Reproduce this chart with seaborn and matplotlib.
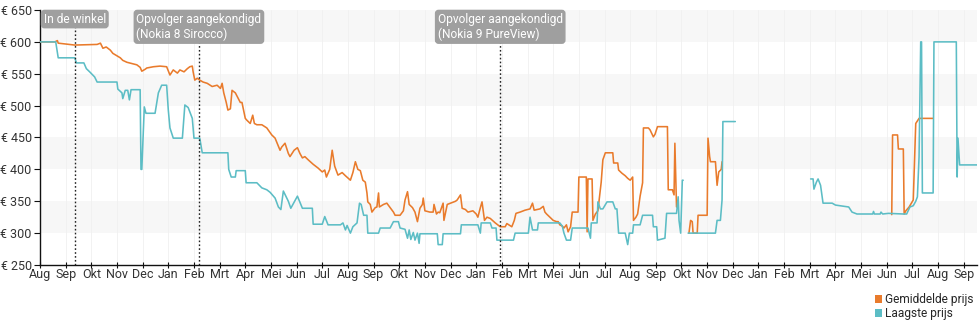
import numpy as np
import pandas as pd
import matplotlib
matplotlib.use("Agg")
import matplotlib.pyplot as plt
from matplotlib.patches import Patch
import seaborn as sns

# ---------------- data ----------------
# x = days since start of chart (ticks every 31 days), NaN marks a gap
laagste_dag = [0, 19, 22, 42, 44, 53, 56, 60, 66, 69, 93, 94, 99, 100, 103, 106, 108, 110, 121, 122, 123,
               126, 128, 139, 143, 147, 153, 155, 157, 161, 172, 175, 179, 184, 186, 193, 196, 227, 228,
               231, 236, 237, 248, 249, 262, 268, 274, 278, 284, 288, 291, 294, 300, 303, 311, 317, 329,
               330, 341, 344, 348, 363, 366, 369, 371, 375, 378, 383, 386, 388, 391, 395, 396, 409, 411,
               423, 427, 433, 435, 441, 444, 446, 448, 451, 453, 456, 458, 459, 480, 481, 486, 487, 508,
               509, 529, 532, 533, 544, 546, 551, 552, 572, 574, 590, 592, 595, 601, 602, 628, 631, 633,
               636, 641, 643, 656, 662, 665, 666, 673, 674, 677, 680, 685, 692, 695, 697, 699, 707, 710,
               712, 716, 717, 725, 728, 740, 741, 745, 746, 755, 757, 769, 771, 772, 774, 776, 777,
               np.nan,
               783, 816, 818, 822, 824, 825, 840,
               np.nan,
               931, 934, 935, 938, 940, 943, 946, 957, 961, 977, 981, 987, 1006, 1007, 1008, 1015, 1016,
               1018, 1025, 1043, 1047, 1051, 1055, 1058, 1060, 1062, 1064, 1065, 1066, 1079, 1080, 1107,
               1108, 1109, 1111, 1132]
laagste_prijs = [600, 600, 575, 575, 567, 567, 558, 553, 545, 537, 537, 526, 520, 511, 524, 524, 509, 525, 525, 400, 400,
                 498, 488, 488, 520, 532, 532, 493, 465, 449, 449, 501, 497, 480, 449, 449, 426, 426, 400,
                 388, 388, 398, 398, 379, 379, 371, 368, 364, 355, 341, 337, 366, 350, 339, 358, 339, 339,
                 314, 314, 326, 313, 313, 316, 305, 312, 300, 310, 316, 347, 345, 328, 328, 300, 300, 308,
                 308, 318, 318, 308, 306, 292, 305, 290, 301, 289, 300, 284, 299, 299, 282, 282, 299, 299,
                 313, 313, 300, 316, 316, 308, 308, 289, 289, 300, 300, 325, 305, 305, 316, 316, 311, 300,
                 289, 289, 308, 308, 308, 292, 316, 316, 349, 338, 338, 349, 349, 338, 338, 300, 300, 282,
                 300, 300, 313, 313, 328, 328, 310, 310, 289, 292, 331, 331, 357, 320, 300, 383, 383,
                 np.nan,
                 300, 300, 320, 320, 352, 475, 475,
                 np.nan,
                 385, 385, 369, 380, 385, 375, 347, 347, 344, 341, 333, 330, 330, 334, 330, 330, 333,
                 330, 331, 330, 330, 341, 343, 350, 357, 420, 600, 600, 363, 363, 600, 600,
                 388, 449, 407, 407]

gemiddeld_dag = [0, 18, 21, 22, 42, 69, 73, 76, 80, 85, 88, 93, 97, 100, 105, 111, 117, 121, 123, 127, 129,
                 137, 145, 153, 157, 161, 166, 169, 174, 178, 181, 184, 185, 187, 190, 193, 197, 202, 208,
                 214, 218, 220, 222, 225, 227, 230, 232, 236, 238, 242, 244, 248, 250, 254, 257, 259, 262,
                 268, 274, 280, 284, 290, 292, 296, 300, 302, 307, 311, 314, 317, 320, 324, 330, 336, 341,
                 344, 346, 350, 353, 356, 360, 365, 369, 375, 378, 381, 384, 387, 390, 393, 395, 396, 399,
                 401, 405, 407, 409, 410, 415, 419, 423, 427, 429, 435, 439, 441, 444, 446, 450, 453, 456,
                 459, 462, 463, 465, 471, 475, 476, 479, 481, 483, 487, 488, 492, 496, 502, 504, 508, 510,
                 514, 517, 523, 527, 529, 532, 534, 537, 540, 544, 550, 556, 562, 564, 570, 573, 575, 580,
                 586, 592, 595, 597, 604, 608, 610, 612, 616, 620, 624, 626, 628, 631, 633, 636, 638, 641,
                 643, 647, 650, 651, 660, 661, 662, 667, 668, 671, 674, 678, 680, 683, 687, 692, 693, 698,
                 699, 703, 707, 710, 713, 716, 717, 720, 722, 725, 728, 729, 735, 737, 741, 743, 746, 749,
                 758, 759, 764, 766, 767, 769,
                 np.nan,
                 784, 786, 788, 789, 794, 795, 806, 807, 809, 810, 816, 818, 820, 823, 824,
                 np.nan,
                 1029, 1030, 1036, 1037, 1043, 1044, 1046, 1050, 1055, 1058, 1062, 1079]
gemiddeld_prijs = [600, 600, 602, 598, 595, 596, 598, 590, 592, 587, 582, 578, 575, 571, 568, 566, 564, 560, 554, 557, 559,
                   561, 562, 561, 548, 556, 551, 556, 553, 558, 561, 562, 553, 540, 543, 540, 537, 535, 530,
                   532, 527, 535, 520, 505, 493, 495, 524, 520, 515, 505, 505, 480, 477, 472, 485, 472, 470,
                   470, 465, 454, 449, 430, 435, 441, 425, 420, 430, 434, 425, 418, 420, 415, 408, 402, 396,
                   399, 388, 400, 430, 405, 391, 395, 390, 383, 395, 412, 400, 398, 383, 380, 363, 349, 345,
                   333, 340, 341, 363, 341, 345, 347, 340, 333, 328, 328, 335, 352, 365, 345, 340, 333, 318,
                   339, 345, 355, 335, 333, 333, 345, 330, 333, 332, 347, 320, 345, 347, 350, 352, 360, 339,
                   337, 333, 335, 330, 325, 340, 349, 320, 325, 323, 316, 310, 310, 315, 310, 320, 331, 333,
                   336, 338, 347, 336, 338, 342, 333, 330, 325, 320, 318, 318, 313, 311, 308, 313, 302, 310,
                   333, 333, 333, 388, 388, 302, 385, 385, 320, 330, 335, 380, 415, 426, 426, 426, 410, 410,
                   399, 394, 390, 386, 383, 388, 320, 325, 330, 358, 379, 465, 465, 462, 451, 455, 467, 467,
                   467, 368, 368, 360, 441, 341,
                   np.nan,
                   300, 320, 318, 300, 300, 328, 328, 449, 420, 412, 412, 375, 396, 400, 412,
                   np.nan,
                   329, 454, 454, 432, 432, 330, 335, 341, 352, 472, 480, 480]

serie_namen = ["Gemiddelde prijs", "Laagste prijs"]
serie_kleuren = ["#E97B2C", "#5CBDC5"]

tick_labels = ["Aug", "Sep", "Okt", "Nov", "Dec", "Jan", "Feb", "Mrt", "Apr", "Mei", "Jun", "Jul",
               "Aug", "Sep", "Okt", "Nov", "Dec", "Jan", "Feb", "Mrt", "Mei", "Jun", "Jul",
               "Aug", "Sep", "Okt", "Nov", "Dec", "Jan", "Feb", "Mrt", "Apr", "Mei", "Jun", "Jul",
               "Aug", "Sep"]
tick_step = 31
x_max = 1132

y_ticks = [250, 300, 350, 400, 450, 500, 550, 600, 650]

event_dag = [42, 192, 556]
event_label = ["In de winkel", "Opvolger aangekondigd\n(Nokia 8 Sirocco)",
               "Opvolger aangekondigd\n(Nokia 9 PureView)"]


def to_frame(days, prices, name):
    df = pd.DataFrame({"dag": days, "prijs": prices})
    seg = df["dag"].isna().cumsum()
    df["segment"] = seg
    df = df.dropna()
    df["serie"] = name
    return df


data = pd.concat([
    to_frame(gemiddeld_dag, gemiddeld_prijs, serie_namen[0]),
    to_frame(laagste_dag, laagste_prijs, serie_namen[1]),
], ignore_index=True)
data["unit"] = data["serie"] + "_" + data["segment"].astype(str)

# ---------------- plot ----------------
sns.set_theme(style="white")
plt.rcParams["font.family"] = ["Roboto", "DejaVu Sans"]

fig = plt.figure(figsize=(9.8, 3.25), dpi=100)
ax = fig.add_axes([40 / 980, 1 - 265 / 325, 937 / 980, 255 / 325])

# alternating bands
for i in range(len(y_ticks) - 1):
    if i % 2 == 1:
        ax.axhspan(y_ticks[i], y_ticks[i + 1], color="#f7f7f7", zorder=0, lw=0)

# faint vertical grid
for k in range(len(tick_labels)):
    ax.axvline(k * tick_step, color="#f0f0f0", lw=0.6, zorder=0.5)

sns.lineplot(data=data, x="dag", y="prijs", hue="serie", units="unit", estimator=None,
             sort=False, palette=dict(zip(serie_namen, serie_kleuren)), hue_order=serie_namen,
             lw=1.15, legend=False, ax=ax, zorder=3)

for d, lab in zip(event_dag, event_label):
    ax.axvline(d, color="#222222", lw=1.0, ls=(0, (1.2, 1.6)), zorder=4)
    ax.text(d, 646, lab, ha="center", va="top", ma="left", color="white", fontsize=8.6,
            zorder=5,
            bbox=dict(boxstyle="round,pad=0.18,rounding_size=0.25", fc="#9f9f9f", ec="#9f9f9f"))

ax.set_xlim(0, x_max)
ax.set_ylim(250, 650)
ax.set_xticks([k * tick_step for k in range(len(tick_labels))])
ax.set_xticklabels(tick_labels)
ax.set_yticks(y_ticks)
ax.set_yticklabels([f"€ {v}" for v in y_ticks])
ax.set_xlabel("")
ax.set_ylabel("")

for side in ["top", "right"]:
    ax.spines[side].set_visible(False)
for side in ["left", "bottom"]:
    ax.spines[side].set_color("#111111")
    ax.spines[side].set_linewidth(1.0)

ax.tick_params(axis="x", direction="inout", length=5, width=0.8, color="#111111",
               labelsize=9, labelcolor="#333333", pad=0)
ax.tick_params(axis="y", direction="out", length=4, width=0.8, color="#111111",
               labelsize=9, labelcolor="#333333", pad=2)
ax.tick_params(axis="both", which="both", bottom=True, left=True)

handles = [Patch(facecolor=c, edgecolor="none") for c in serie_kleuren]
fig.legend(handles, serie_namen, loc="lower right", bbox_to_anchor=(0.998, 0.0),
           frameon=False, fontsize=8.6, handlelength=0.6, handleheight=0.6,
           handletextpad=0.25, labelspacing=0.1, borderaxespad=0.2, borderpad=0.2)

fig.savefig("out.png", dpi=100)
